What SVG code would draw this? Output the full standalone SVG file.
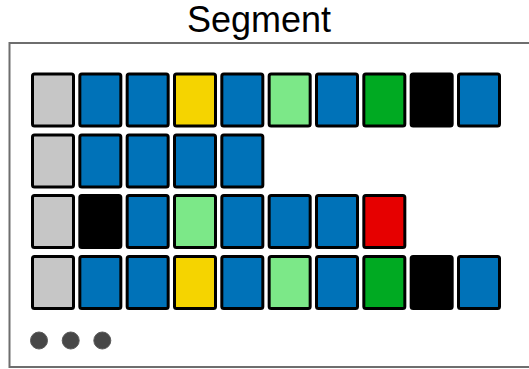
<svg xmlns="http://www.w3.org/2000/svg" width="529" height="369" viewBox="0 0 529 369">
<style>
.c{stroke:#000;stroke-width:3;}
.g{fill:#c6c6c6}.b{fill:#0072b8}.y{fill:#f5d400}.lg{fill:#7ce888}.dg{fill:#00aa22}.k{fill:#000}.r{fill:#e60000}
.dot{fill:#474747;stroke:#5a5a5a;stroke-width:1}
text{font-family:"Liberation Sans",Arial,sans-serif}
</style>
<text x="259" y="32" font-size="36" text-anchor="middle" fill="#000">Segment</text>
<rect id="segment" x="9.5" y="43" width="530" height="324" fill="#fff" stroke="#6e6e6e" stroke-width="2"/>
<defs>
<rect id="cell" width="41" height="52" rx="2"/>
</defs>
<g id="row1" transform="translate(32.5,74)">
<use href="#cell" class="c g" x="0"/>
<use href="#cell" class="c b" x="47.33"/>
<use href="#cell" class="c b" x="94.67"/>
<use href="#cell" class="c y" x="142"/>
<use href="#cell" class="c b" x="189.33"/>
<use href="#cell" class="c lg" x="236.67"/>
<use href="#cell" class="c b" x="284"/>
<use href="#cell" class="c dg" x="331.33"/>
<use href="#cell" class="c k" x="378.67"/>
<use href="#cell" class="c b" x="426"/>
</g>
<g id="row2" transform="translate(32.5,135)">
<use href="#cell" class="c g" x="0"/>
<use href="#cell" class="c b" x="47.33"/>
<use href="#cell" class="c b" x="94.67"/>
<use href="#cell" class="c b" x="142"/>
<use href="#cell" class="c b" x="189.33"/>
</g>
<g id="row3" transform="translate(32.5,195.5)">
<use href="#cell" class="c g" x="0"/>
<use href="#cell" class="c k" x="47.33"/>
<use href="#cell" class="c b" x="94.67"/>
<use href="#cell" class="c lg" x="142"/>
<use href="#cell" class="c b" x="189.33"/>
<use href="#cell" class="c b" x="236.67"/>
<use href="#cell" class="c b" x="284"/>
<use href="#cell" class="c r" x="331.33"/>
</g>
<g id="row4" transform="translate(32.5,256.5)">
<use href="#cell" class="c g" x="0"/>
<use href="#cell" class="c b" x="47.33"/>
<use href="#cell" class="c b" x="94.67"/>
<use href="#cell" class="c y" x="142"/>
<use href="#cell" class="c b" x="189.33"/>
<use href="#cell" class="c lg" x="236.67"/>
<use href="#cell" class="c b" x="284"/>
<use href="#cell" class="c dg" x="331.33"/>
<use href="#cell" class="c k" x="378.67"/>
<use href="#cell" class="c b" x="426"/>
</g>
<g id="ellipsis">
<circle class="dot" cx="39" cy="340.5" r="8.5"/>
<circle class="dot" cx="70.7" cy="340.5" r="8.5"/>
<circle class="dot" cx="102.3" cy="340.5" r="8.5"/>
</g>
</svg>
